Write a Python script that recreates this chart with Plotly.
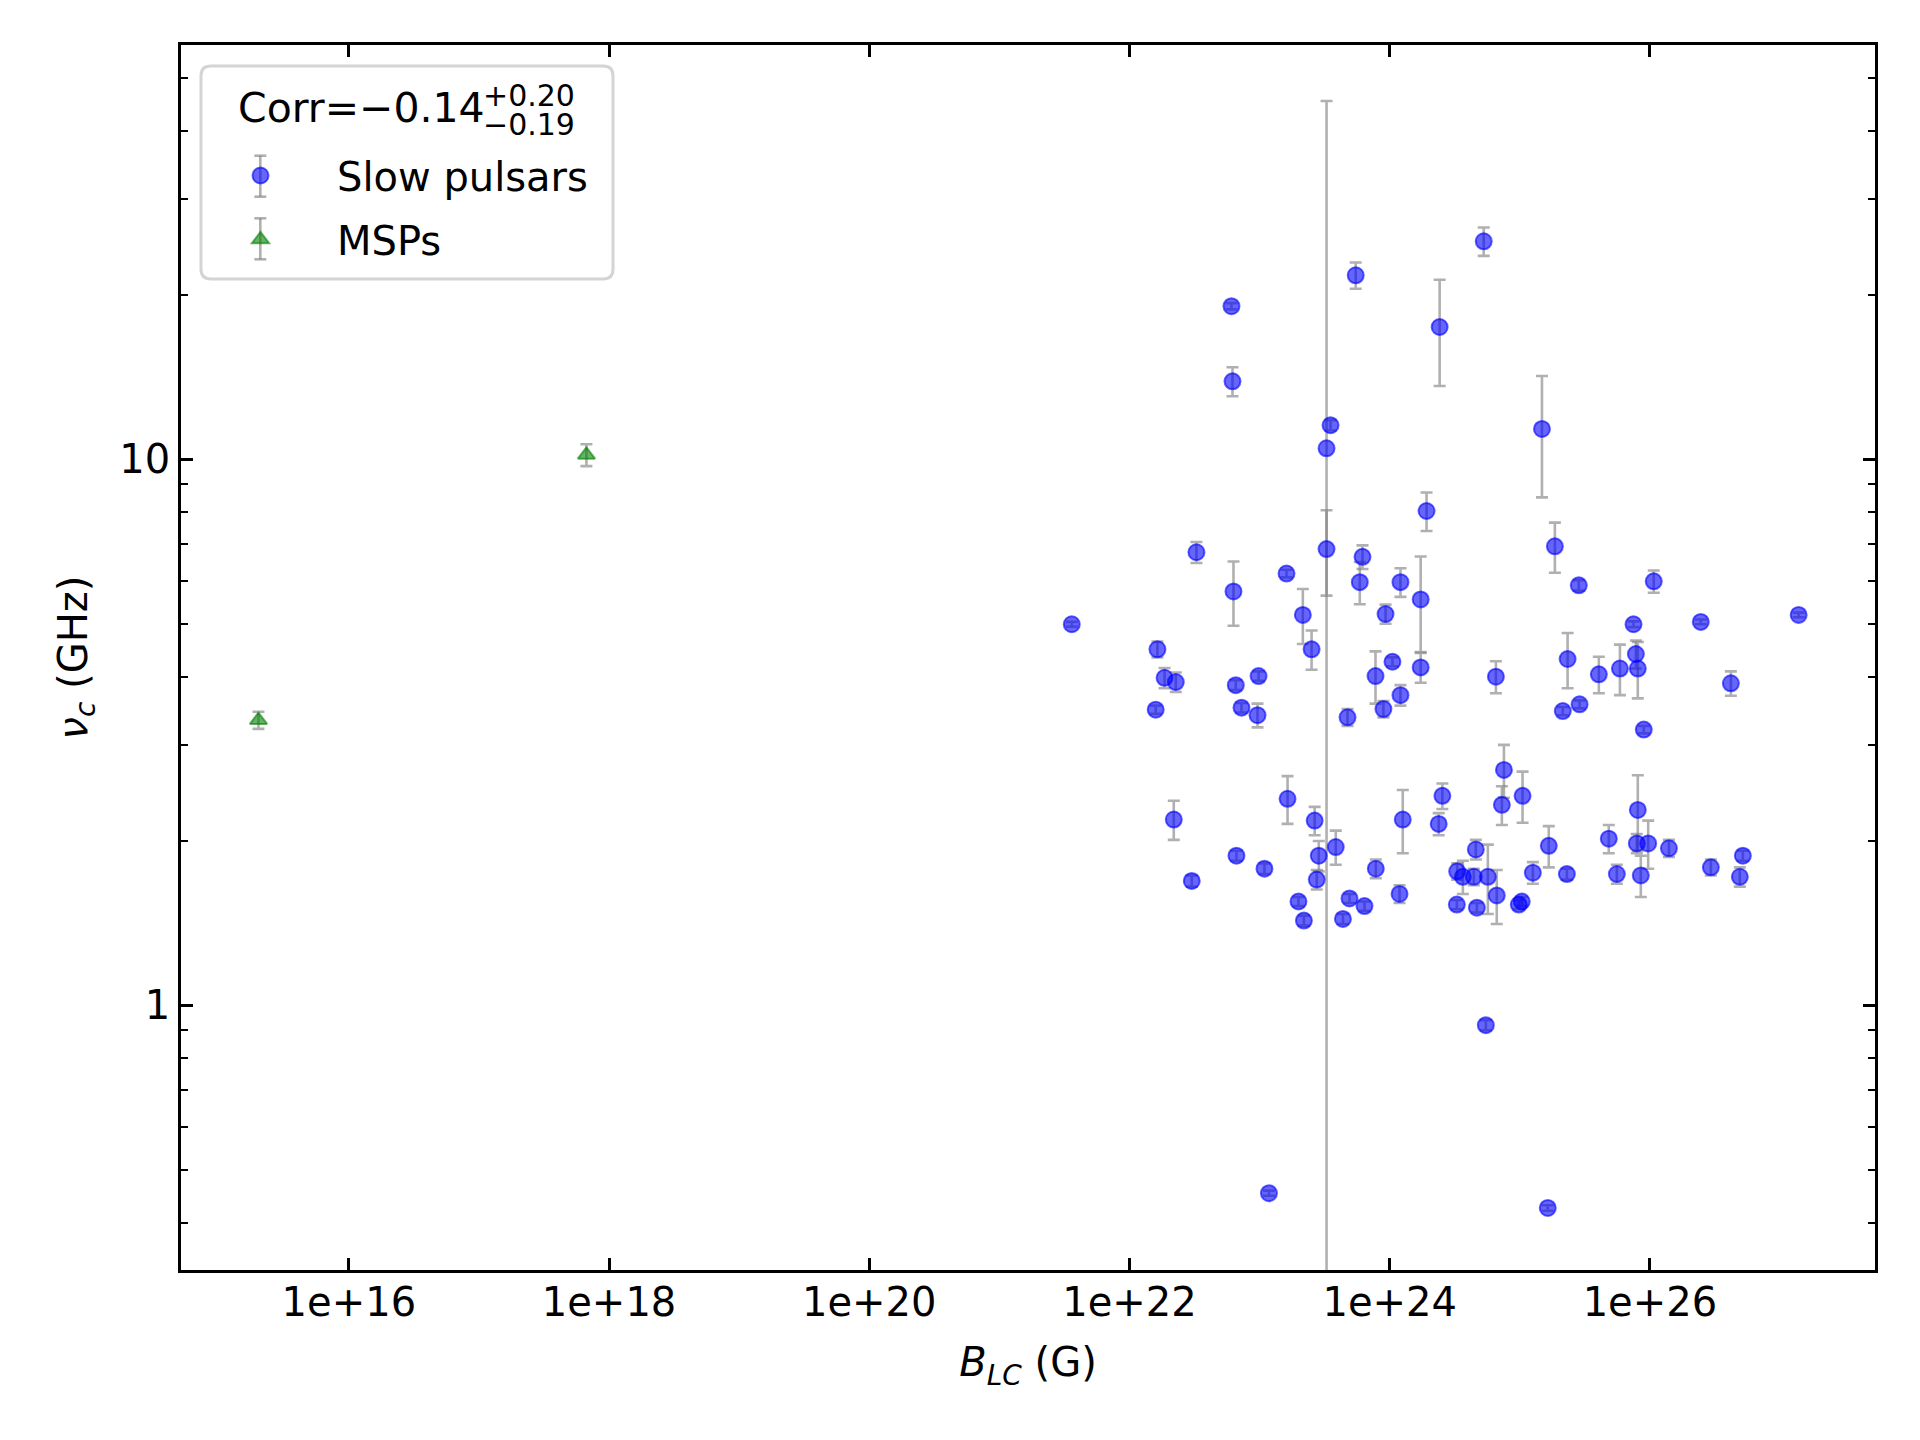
import plotly.graph_objects as go

# ---------------- data ----------------
slow_B = [6.08e22, 6.19e22, 5.48e23, 2.42e24, 3.51e23, 3.27e23, 5.28e24, 1.48e25,
          1.92e24, 3.27e22, 3.27e23, 6.18e23, 1.61e23, 5.89e23, 1.21e24, 6.30e22,
          1.73e24, 9.29e23, 2.15e23, 3.60e21, 2.51e23, 1.64e22, 1.05e24, 1.73e24,
          7.78e23, 9.82e22, 1.86e22, 2.27e22, 6.56e22, 1.21e24, 7.26e22, 8.95e23,
          1.59e22, 9.64e22, 4.74e23, 2.54e24, 1.64e23, 1.86e25, 2.84e25, 1.07e26,
          7.48e25, 7.80e25, 8.07e25, 2.46e26, 1.39e27, 2.33e25, 4.05e25, 5.88e25,
          6.55e24, 4.19e26, 2.14e25, 2.88e25, 8.97e25, 7.55e24, 7.28e24, 1.05e25,
          2.19e22, 2.65e23, 3.85e23, 2.85e23, 1.26e24, 2.38e24, 6.64e22, 1.09e23,
          3.01e22, 7.82e23, 2.75e23, 1.19e24, 1.99e23, 4.91e23, 6.40e23, 2.19e23,
          4.37e23, 8.07e25, 4.59e24, 1.67e25, 4.83e25, 7.93e25, 9.70e25, 1.40e26,
          3.30e24, 3.65e24, 4.43e24, 5.68e24, 6.65e24, 1.26e25, 2.30e25, 5.57e25,
          8.51e25, 2.94e26, 5.18e26, 4.91e26, 3.28e24, 4.68e24, 9.82e24, 1.035e25,
          5.48e24, 1.18e23, 1.64e25]
slow_nu = [19.08, 13.90, 21.74, 17.48, 11.55, 10.48, 25.09, 11.37,
           8.045, 6.76, 6.85, 6.63, 6.18, 5.96, 5.96, 5.73,
           5.54, 5.21, 5.19, 4.99, 4.49, 4.49, 4.26, 4.16,
           4.01, 4.01, 3.98, 3.91, 3.86, 3.70, 3.51, 3.49,
           3.48, 3.40, 3.37, 2.42, 2.39, 6.93, 5.88, 5.98,
           4.99, 4.40, 4.14, 5.04, 5.19, 4.31, 4.04, 4.14,
           4.00, 3.89, 3.46, 3.56, 3.20, 2.70, 2.33, 2.42,
           2.19, 2.18, 1.95, 1.88, 2.19, 2.15, 1.88, 1.78,
           1.69, 1.78, 1.70, 1.60, 1.55, 1.57, 1.52, 1.43,
           1.44, 2.28, 1.93, 1.96, 2.02, 1.98, 1.98, 1.94,
           1.76, 1.72, 1.72, 1.72, 1.59, 1.75, 1.74, 1.74,
           1.73, 1.79, 1.88, 1.72, 1.53, 1.51, 1.53, 1.55,
           0.920, 0.453, 0.4256]
slow_err_up = [0.25, 0.85, 1.2, 3.85, 0.25, 34.85, 1.5, 2.85,
               0.65, 0.3, 1.22, 0.33, 0.1, 0.53, 0.36, 0.77,
               1.1, 0.21, 0.6, 0.05, 0.37, 0.15, 0.08, 0.26,
               0.44, 0.08, 0.17, 0.16, 0.08, 0.16, 0.07, 0.12,
               0.06, 0.17, 0.12, 0.13, 0.24, 0.73, 0.13, 0.28,
               0.06, 0.26, 0.49, 0.05, 0.05, 0.5, 0.31, 0.44,
               0.27, 0.2, 0.06, 0.06, 0.05, 0.3, 0.19, 0.26,
               0.18, 0.13, 0.14, 0.12, 0.29, 0.1, 0.04, 0.04,
               0.04, 0.07, 0.07, 0.06, 0.03, 0.03, 0.03, 0.03,
               0.03, 0.36, 0.08, 0.17, 0.12, 0.08, 0.2, 0.07,
               0.06, 0.12, 0.06, 0.25, 0.18, 0.08, 0.04, 0.07,
               0.15, 0.06, 0.04, 0.07, 0.03, 0.03, 0.03, 0.03,
               0.02, 0.005, 0.005]
slow_err_dn = list(slow_err_up)
slow_err_dn[5] = 10.48  # lower bound reaches zero (clipped on log axis)

msp_B = [2.02e15, 6.70e17]
msp_nu = [3.33, 10.19]
msp_err = [0.12, 0.47]

x_tickvals = [1e16, 1e18, 1e20, 1e22, 1e24, 1e26]
x_ticktext = ["1e+16", "1e+18", "1e+20", "1e+22", "1e+24", "1e+26"]
y_tickvals = [1, 10]
y_ticktext = ["1", "10"]
y_minor = [0.4, 0.5, 0.6, 0.7, 0.8, 0.9, 2, 3, 4, 5, 6, 7, 8, 9, 20, 30, 40, 50]

# ---------------- layout geometry ----------------
W, H = 1920, 1440
L, R, T, B = 181, 1875, 45, 1270
FONT = "DejaVu Sans"
ERRC = "rgba(128,128,128,0.62)"


def px(x, y):
    return (x - L) / (R - L), (B - y) / (B - T)


fig = go.Figure()
fig.add_trace(go.Scatter(
    x=slow_B, y=slow_nu, mode="markers", name="Slow pulsars",
    legendgroup="a",
    marker=dict(symbol="circle", size=16, color="rgba(0,0,255,0.6)",
                line=dict(color="rgba(0,0,255,0.6)", width=2)),
    error_y=dict(type="data", symmetric=False, array=slow_err_up,
                 arrayminus=slow_err_dn, color=ERRC, thickness=2.6, width=6),
))
fig.add_trace(go.Scatter(
    x=msp_B, y=msp_nu, mode="markers", name="MSPs",
    legendgroup="b",
    marker=dict(symbol="triangle-up", size=15, color="rgba(0,128,0,0.6)",
                line=dict(color="rgba(0,128,0,0.6)", width=2)),
    error_y=dict(type="data", array=msp_err, color=ERRC, thickness=2.6, width=6),
))

# legend frame (rounded rectangle) in paper coordinates
bx0, by0, bx1, by1, rad = 201, 66, 613, 279, 10


def P(x, y):
    a, b = px(x, y)
    return f"{a:.6f},{b:.6f}"


path = (f"M {P(bx0 + rad, by0)} L {P(bx1 - rad, by0)} Q {P(bx1, by0)} {P(bx1, by0 + rad)} "
        f"L {P(bx1, by1 - rad)} Q {P(bx1, by1)} {P(bx1 - rad, by1)} "
        f"L {P(bx0 + rad, by1)} Q {P(bx0, by1)} {P(bx0, by1 - rad)} "
        f"L {P(bx0, by0 + rad)} Q {P(bx0, by0)} {P(bx0 + rad, by0)} Z")
shapes = [dict(type="path", xref="paper", yref="paper", path=path,
               line=dict(color="#d4d4d4", width=3), fillcolor="rgba(255,255,255,0.8)",
               layer="above")]
# error bar glyphs for legend entries
for (cx, ya, yb) in [(260.3, 155.7, 196.7), (260.3, 218.3, 259.3)]:
    ax_, ay_ = px(cx, ya)
    bx_, by_ = px(cx, yb)
    shapes.append(dict(type="line", xref="paper", yref="paper", x0=ax_, y0=ay_, x1=bx_, y1=by_,
                       line=dict(color=ERRC, width=2.6), layer="above"))
    for yy in (ya, yb):
        lx, ly = px(cx - 6, yy)
        rx_, _ = px(cx + 6, yy)
        shapes.append(dict(type="line", xref="paper", yref="paper", x0=lx, y0=ly, x1=rx_, y1=ly,
                           line=dict(color=ERRC, width=2.6), layer="above"))

ann = []
ax1, ay1 = px(487, 108)
ann.append(dict(xref="paper", yref="paper", x=ax1, y=ay1, xanchor="right", yanchor="middle",
                text="Corr=\u22120.14", showarrow=False, font=dict(size=41, family=FONT, color="black")))
ax2, ay2 = px(481, 95)
ann.append(dict(xref="paper", yref="paper", x=ax2, y=ay2, xanchor="left", yanchor="middle",
                text="+0.20", showarrow=False, font=dict(size=30, family=FONT, color="black")))
ax3, ay3 = px(481, 124)
ann.append(dict(xref="paper", yref="paper", x=ax3, y=ay3, xanchor="left", yanchor="middle",
                text="\u22120.19", showarrow=False, font=dict(size=30, family=FONT, color="black")))

lgx, lgy = px(184, 143)

fig.update_layout(
    width=W, height=H,
    margin=dict(l=L, r=W - R, t=T, b=H - B, pad=0),
    paper_bgcolor="white", plot_bgcolor="white",
    font=dict(family=FONT, size=40, color="black"),
    showlegend=True,
    legend=dict(x=lgx, y=lgy, xanchor="left", yanchor="top", bgcolor="rgba(0,0,0,0)",
                borderwidth=0, itemwidth=143, tracegroupgap=9,
                font=dict(size=40, family=FONT, color="black")),
    shapes=shapes, annotations=ann,
)

fig.update_xaxes(
    type="log", range=[14.71, 27.73], tickvals=x_tickvals, ticktext=x_ticktext,
    ticks="inside", ticklen=12, tickwidth=2.6, tickcolor="black",
    showline=True, linecolor="black", linewidth=2.6, mirror="ticks",
    showgrid=False, zeroline=False, tickfont=dict(size=40), ticklabelstandoff=-5,
    title=dict(text="<i>B</i><sub><i>LC</i></sub> (G)", font=dict(size=40), standoff=25),
    automargin=False,
)
fig.update_yaxes(
    type="log", range=[-0.4846, 1.759], tickvals=y_tickvals, ticktext=y_ticktext,
    ticks="inside", ticklen=12, tickwidth=2.6, tickcolor="black",
    minor=dict(tickvals=y_minor, ticks="inside", ticklen=7, tickwidth=2, tickcolor="black"),
    showline=True, linecolor="black", linewidth=2.6, mirror="ticks",
    showgrid=False, zeroline=False, tickfont=dict(size=40),
    title=dict(text="<i>\u03bd</i><sub><i>c</i></sub> (GHz)", font=dict(size=40), standoff=20),
    automargin=False,
)

fig.write_html("out.html")
